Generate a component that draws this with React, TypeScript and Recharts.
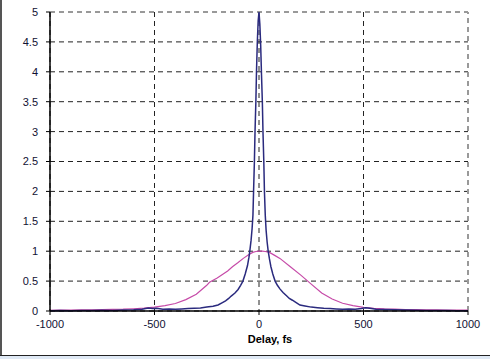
import { CartesianGrid, Line, LineChart, ReferenceLine, XAxis, YAxis } from "recharts";

// narrow pulse (navy), fs vs signal
const BLUE_X = [
  -1000, -950, -900, -850, -800, -750, -700, -650, -600, -560, -530, -510, -490, -460, -430, -400, -370, -340, -310,
  -280, -250, -220, -196, -175, -160, -145, -133, -115, -100, -88, -77, -66, -55, -48, -44, -38, -33, -29, -26, -22,
  -19, -15, -12, -8, -4, 0, 4, 8, 12, 16, 19, 23, 26, 30, 34, 39, 44, 50, 57, 66, 77, 88, 100, 115, 133, 145, 160,
  178, 196, 220, 250, 280, 310, 340, 370, 400, 430, 460, 490, 510, 530, 560, 600, 650, 700, 750, 800, 850, 900, 950,
  1000,
];
const BLUE_Y = [
  0.005, 0.008, 0.006, 0.01, 0.008, 0.012, 0.01, 0.015, 0.02, 0.03, 0.05, 0.04, 0.045, 0.03, 0.035, 0.03, 0.035, 0.04,
  0.045, 0.05, 0.065, 0.08, 0.1, 0.14, 0.17, 0.21, 0.25, 0.3, 0.36, 0.43, 0.5, 0.62, 0.76, 0.9, 1.0, 1.18, 1.38, 1.6,
  2.0, 2.5, 3.0, 3.5, 4.0, 4.5, 4.85, 5.0, 4.8, 4.45, 3.95, 3.5, 3.0, 2.5, 2.0, 1.6, 1.35, 1.15, 1.0, 0.87, 0.74, 0.62,
  0.5, 0.43, 0.37, 0.31, 0.25, 0.21, 0.18, 0.14, 0.1, 0.085, 0.065, 0.055, 0.045, 0.04, 0.035, 0.03, 0.035, 0.03, 0.04,
  0.055, 0.045, 0.03, 0.025, 0.02, 0.015, 0.012, 0.01, 0.01, 0.008, 0.006, 0.005,
];

// broad pulse (magenta)
const PINK_X = [
  -1000, -950, -900, -850, -800, -750, -700, -650, -600, -550, -500, -450, -400, -350, -300, -250, -237, -200, -150,
  -127, -100, -75, -50, -30, -15, 0, 15, 30, 50, 75, 100, 150, 200, 250, 300, 350, 400, 450, 500, 550, 600, 650, 700,
  750, 800, 850, 900, 950, 1000,
];
const PINK_Y = [
  0.012, 0.015, 0.014, 0.018, 0.02, 0.022, 0.026, 0.03, 0.038, 0.048, 0.065, 0.09, 0.125, 0.19, 0.28, 0.43, 0.48, 0.55,
  0.67, 0.74, 0.81, 0.88, 0.94, 0.98, 0.995, 1.0, 1.0, 0.995, 0.98, 0.93, 0.88, 0.74, 0.6, 0.45, 0.3, 0.2, 0.13, 0.09,
  0.06, 0.045, 0.035, 0.03, 0.025, 0.022, 0.02, 0.018, 0.015, 0.014, 0.013,
];

const X_TICKS = [-1000, -500, 0, 500, 1000];
const Y_TICKS = [0, 0.5, 1, 1.5, 2, 2.5, 3, 3.5, 4, 4.5, 5];

const blue = BLUE_X.map((x, i) => ({ x, y: BLUE_Y[i] }));
const pink = PINK_X.map((x, i) => ({ x, y: PINK_Y[i] }));

const tick = { fill: "#111133", fontSize: 11, fontFamily: "Liberation Sans, Arial, sans-serif" };

export default function App() {
  return (
    <div style={{ position: "absolute", left: 0, top: 0, width: 490, height: 359, background: "#fff" }}>
      <div style={{ position: "absolute", left: 0, top: 0, width: 2, height: 356, background: "#555" }} />
      <div style={{ position: "absolute", left: 0, top: 355, width: 490, height: 1, background: "#222" }} />
      <div style={{ position: "absolute", left: 0, top: 356, width: 490, height: 3, background: "#dfe9f5" }} />
      <div style={{ position: "absolute", left: 0, top: 0 }}>
        <LineChart width={490} height={356} margin={{ top: 12, right: 22, bottom: 0, left: 0 }}>
          <CartesianGrid
            stroke="#222"
            strokeDasharray="5 4"
            horizontalValues={Y_TICKS.filter((v) => v !== 5)}
            verticalValues={X_TICKS.filter((v) => v !== 1000)}
          />
          <ReferenceLine y={5} stroke="#999" strokeWidth={2} strokeDasharray="5 4" />
          <ReferenceLine x={1000} stroke="#999" strokeWidth={2} strokeDasharray="5 4" />
          <XAxis
            type="number"
            dataKey="x"
            domain={[-1000, 1000]}
            ticks={X_TICKS}
            allowDataOverflow
            height={45}
            tick={tick}
            tickSize={4}
            tickMargin={5}
            axisLine={{ stroke: "#000", strokeWidth: 1.5 }}
            tickLine={{ stroke: "#000" }}
            label={{
              value: "Delay, fs",
              position: "insideBottom",
              offset: 13,
              dx: 11,
              style: { fill: "#000", fontSize: 11, fontWeight: "bold", fontFamily: "Liberation Sans, Arial, sans-serif" },
            }}
          />
          <YAxis
            type="number"
            domain={[0, 5]}
            ticks={Y_TICKS}
            width={50}
            tick={tick}
            tickSize={4}
            tickMargin={8}
            axisLine={{ stroke: "#000", strokeWidth: 1.5 }}
            tickLine={{ stroke: "#000" }}
          />
          <Line
            data={pink}
            dataKey="y"
            type="linear"
            stroke="#c64ba8"
            strokeWidth={1.2}
            dot={false}
            isAnimationActive={false}
          />
          <Line
            data={blue}
            dataKey="y"
            type="linear"
            stroke="#2a2a7e"
            strokeWidth={1.5}
            dot={false}
            isAnimationActive={false}
          />
        </LineChart>
      </div>
    </div>
  );
}
